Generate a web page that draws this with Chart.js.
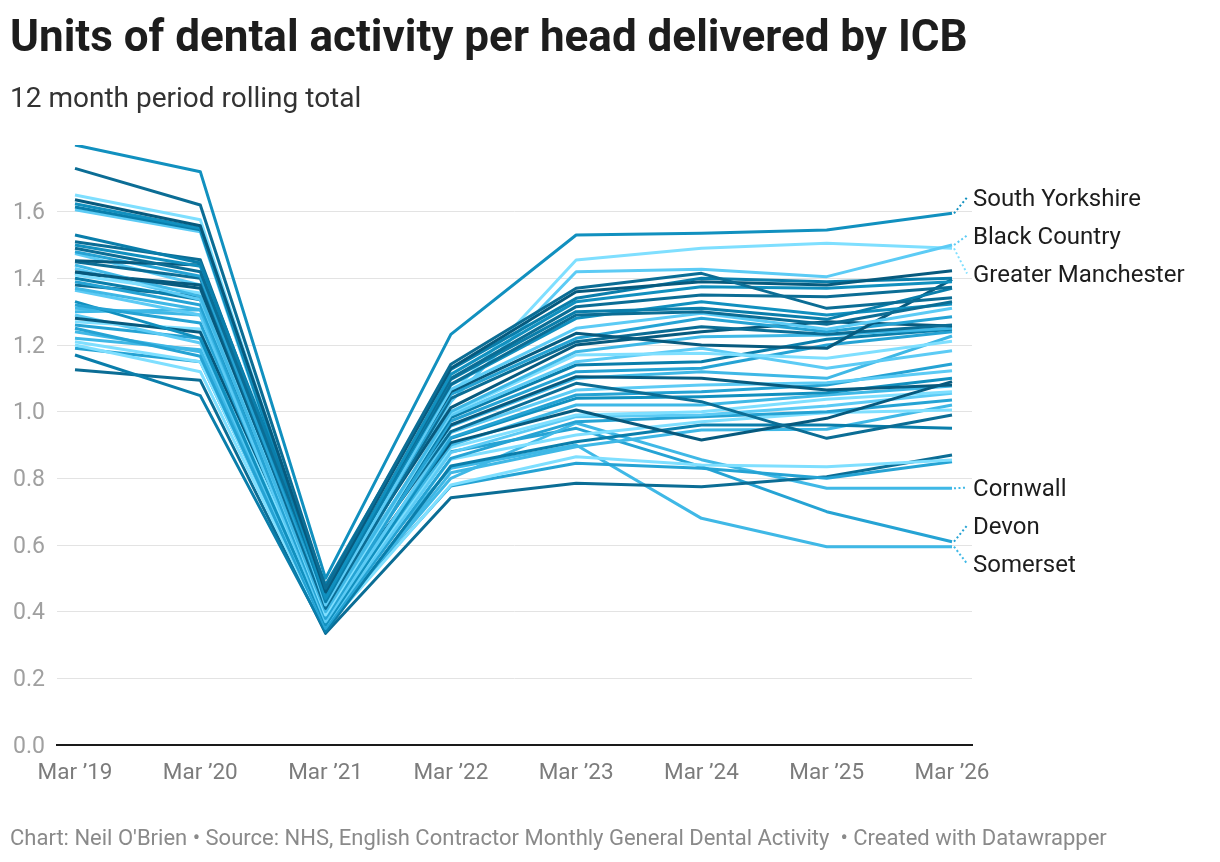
<!DOCTYPE html>
<html>
<head>
<meta charset="utf-8">
<script src="https://cdn.jsdelivr.net/npm/chart.js@4.4.1/dist/chart.umd.min.js"></script>
<style>
  html, body { margin: 0; padding: 0; background: #ffffff; }
  body { width: 1220px; height: 862px; position: relative; overflow: hidden; font-family: Roboto, "Noto Sans", sans-serif; }
  #chartbox { position: absolute; left: 0; top: 0; width: 1220px; height: 862px; }
  #title { position: absolute; left: 10px; top: 14px; font-weight: 700; font-size: 44px; line-height: 1; color: #1d1d1d; white-space: nowrap; z-index: 2; }
  #subtitle { position: absolute; left: 10px; top: 84px; font-size: 28px; line-height: 1; color: #333333; white-space: nowrap; z-index: 2; }
  #footer { position: absolute; left: 10px; top: 827px; font-size: 22px; line-height: 1; color: #8a8a8a; white-space: nowrap; z-index: 2; }
</style>
</head>
<body>
<div id="title">Units of dental activity per head delivered by ICB</div>
<div id="subtitle">12 month period rolling total</div>
<div id="chartbox"><canvas id="c" width="1220" height="862"></canvas></div>
<div id="footer">Chart: Neil O'Brien • Source: NHS, English Contractor Monthly General Dental Activity &nbsp;• Created with Datawrapper</div>
<script>
// ---- Data ----
const periods = ["Mar ’19", "Mar ’20", "Mar ’21", "Mar ’22", "Mar ’23", "Mar ’24", "Mar ’25", "Mar ’26"];
const yTickValues = [0.0, 0.2, 0.4, 0.6, 0.8, 1.0, 1.2, 1.4, 1.6];

const southYorkshire    = [1.80, 1.72, 0.50, 1.232, 1.53, 1.535, 1.545, 1.595];
const blackCountry      = [1.474, 1.38, 0.42, 1.03, 1.42, 1.427, 1.405, 1.50];
const greaterManchester = [1.65, 1.576, 0.45, 1.05, 1.455, 1.49, 1.505, 1.49];
const cornwall          = [1.22, 1.186, 0.36, 0.80, 0.966, 0.856, 0.77, 0.77];
const devon             = [1.26, 1.22, 0.38, 0.88, 0.95, 0.835, 0.70, 0.61];
const somerset          = [1.31, 1.29, 0.40, 0.83, 0.90, 0.68, 0.595, 0.595];

const labelledNames = ["South Yorkshire", "Black Country", "Greater Manchester", "Cornwall", "Devon", "Somerset"];
const labelledValues = [southYorkshire, blackCountry, greaterManchester, cornwall, devon, somerset];

const otherIcbValues = [
  [1.73, 1.62, 0.47, 1.142, 1.37, 1.415, 1.31, 1.342],
  [1.636, 1.558, 0.46, 1.13, 1.36, 1.39, 1.38, 1.423],
  [1.53, 1.446, 0.48, 1.127, 1.34, 1.40, 1.39, 1.40],
  [1.624, 1.55, 0.44, 1.112, 1.33, 1.375, 1.37, 1.39],
  [1.51, 1.456, 0.45, 1.10, 1.315, 1.35, 1.345, 1.373],
  [1.614, 1.546, 0.43, 1.097, 1.30, 1.31, 1.277, 1.37],
  [1.49, 1.42, 0.46, 1.082, 1.29, 1.30, 1.262, 1.33],
  [1.50, 1.436, 0.44, 1.08, 1.28, 1.33, 1.29, 1.323],
  [1.606, 1.54, 0.42, 1.067, 1.25, 1.295, 1.247, 1.31],
  [1.453, 1.44, 0.45, 1.06, 1.235, 1.20, 1.19, 1.397],
  [1.48, 1.406, 0.43, 1.052, 1.22, 1.28, 1.24, 1.285],
  [1.45, 1.40, 0.41, 1.04, 1.21, 1.255, 1.232, 1.26],
  [1.42, 1.37, 0.44, 1.012, 1.20, 1.24, 1.27, 1.257],
  [1.44, 1.346, 0.40, 1.00, 1.18, 1.225, 1.23, 1.25],
  [1.41, 1.356, 0.39, 0.997, 1.17, 1.175, 1.16, 1.211],
  [1.43, 1.336, 0.42, 0.99, 1.15, 1.19, 1.13, 1.183],
  [1.40, 1.336, 0.41, 0.982, 1.14, 1.15, 1.217, 1.247],
  [1.39, 1.32, 0.38, 0.972, 1.12, 1.13, 1.20, 1.24],
  [1.415, 1.38, 0.43, 0.96, 1.105, 1.10, 1.065, 1.08],
  [1.37, 1.306, 0.40, 0.957, 1.10, 1.12, 1.10, 1.227],
  [1.38, 1.346, 0.42, 0.94, 1.085, 1.03, 0.92, 0.99],
  [1.364, 1.29, 0.37, 0.937, 1.065, 1.08, 1.087, 1.123],
  [1.32, 1.266, 0.39, 0.922, 1.05, 1.06, 1.08, 1.143],
  [1.33, 1.22, 0.36, 0.92, 1.04, 1.045, 1.057, 1.10],
  [1.28, 1.238, 0.41, 0.907, 1.005, 0.915, 0.98, 1.09],
  [1.30, 1.306, 0.38, 0.90, 1.02, 1.02, 1.05, 1.077],
  [1.27, 1.248, 0.37, 0.892, 0.99, 1.00, 1.037, 1.06],
  [1.29, 1.206, 0.36, 0.877, 0.985, 0.99, 1.017, 1.055],
  [1.25, 1.166, 0.35, 0.86, 0.97, 0.985, 1.00, 1.035],
  [1.21, 1.15, 0.36, 0.857, 0.93, 0.97, 0.997, 1.005],
  [1.17, 1.048, 0.34, 0.837, 0.91, 0.96, 0.96, 0.95],
  [1.24, 1.18, 0.35, 0.817, 0.895, 0.945, 0.947, 1.02],
  [1.20, 1.12, 0.35, 0.78, 0.865, 0.84, 0.835, 0.855],
  [1.19, 1.15, 0.36, 0.777, 0.845, 0.83, 0.80, 0.85],
  [1.126, 1.094, 0.335, 0.742, 0.785, 0.775, 0.805, 0.87]
];

// ---- Styles (kept apart from the data) ----
const palette = ["#7fdfff", "#5ccbf5", "#3fb8e6", "#25a3d4", "#1190bf", "#0a7eab", "#0b6d95", "#075a7e"];
const labelledShades = [4, 1, 0, 2, 3, 2];
const otherShades = [6, 7, 5, 4, 6, 5, 6, 4, 1, 7, 3, 6, 7, 2, 0, 1, 5, 3, 7, 2, 6, 1, 3, 4, 7, 2, 0, 1, 3, 0, 5, 2, 0, 3, 6];

function makeDataset(name, values, shade) {
  return {
    label: name,
    data: values.map((v, i) => ({ x: i, y: v })),
    borderColor: palette[shade],
    backgroundColor: palette[shade],
    borderWidth: 3,
    pointRadius: 0,
    pointHoverRadius: 0,
    tension: 0,
    fill: false,
    borderJoinStyle: 'round'
  };
}

const datasets = [];
otherIcbValues.forEach((vals, i) => datasets.push(makeDataset('ICB ' + (i + 1), vals, otherShades[i])));
labelledValues.forEach((vals, i) => datasets.push(makeDataset(labelledNames[i], vals, labelledShades[i])));

const endLabels = {
  id: 'endLabels',
  afterDatasetsDraw(chart) {
    const { ctx, scales } = chart;
    const xs = scales.x, ys = scales.y;
    const items = labelledValues.map((vals, i) => ({
      name: labelledNames[i],
      color: palette[labelledShades[i]],
      target: ys.getPixelForValue(vals[vals.length - 1])
    }));
    items.sort((a, b) => a.target - b.target);
    const gap = 38;
    let groups = items.map(it => ({ items: [it], center: it.target }));
    let merged = true;
    while (merged) {
      merged = false;
      for (let i = 0; i < groups.length - 1; i++) {
        const g = groups[i], h = groups[i + 1];
        const gBottom = g.center + (g.items.length - 1) * gap / 2;
        const hTop = h.center - (h.items.length - 1) * gap / 2;
        if (hTop - gBottom < gap) {
          const all = g.items.concat(h.items);
          const c = all.reduce((s, it) => s + it.target, 0) / all.length;
          groups.splice(i, 2, { items: all, center: c });
          merged = true;
          break;
        }
      }
    }
    groups.forEach(g => g.items.forEach((it, k) => { it.ly = g.center + (k - (g.items.length - 1) / 2) * gap; }));
    const xEnd = xs.getPixelForValue(periods.length - 1);
    ctx.save();
    items.forEach(it => {
      ctx.beginPath();
      ctx.setLineDash([2, 2.5]);
      ctx.lineWidth = 2;
      ctx.strokeStyle = it.color;
      ctx.moveTo(xEnd + 2, it.target);
      ctx.lineTo(xEnd + 15, it.ly);
      ctx.stroke();
      ctx.setLineDash([]);
      ctx.fillStyle = '#1d1d1d';
      ctx.font = '24px Roboto';
      ctx.textBaseline = 'middle';
      ctx.textAlign = 'left';
      ctx.fillText(it.name, xEnd + 21, it.ly + 2);
    });
    ctx.restore();
  }
};

function draw() {
  new Chart(document.getElementById('c'), {
    type: 'line',
    data: { datasets },
    options: {
      responsive: false,
      animation: false,
      events: [],
      layout: { padding: { left: 0, right: 248, top: 145, bottom: 0 } },
      plugins: { legend: { display: false }, tooltip: { enabled: false }, title: { display: false } },
      scales: {
        x: {
          type: 'linear',
          min: -0.1437,
          max: 7.1596,
          afterBuildTicks: sc => { sc.ticks = periods.map((_, i) => ({ value: i })); },
          afterFit: sc => { sc.height = 117; },
          ticks: {
            callback: v => periods[v] ?? '',
            font: { family: 'Roboto', size: 22.5 },
            color: '#7c7c7c',
            padding: 15,
            maxRotation: 0,
            autoSkip: false
          },
          grid: { display: false, drawTicks: false },
          border: { display: true, color: '#1a1a1a', width: 2 }
        },
        y: {
          min: 0,
          max: 1.8,
          afterBuildTicks: sc => { sc.ticks = yTickValues.concat([1.8]).map(v => ({ value: v })); },
          afterFit: sc => { sc.width = 57; },
          ticks: {
            callback: v => (v > 1.7 ? null : Number(v).toFixed(1)),
            font: { family: 'Roboto', size: 23 },
            color: '#a0a0a0',
            padding: 12,
            labelOffset: 2
          },
          grid: { color: '#e3e3e3', lineWidth: 1, drawTicks: false },
          border: { display: false }
        }
      }
    },
    plugins: [endLabels]
  });
}

if (document.fonts && document.fonts.load) {
  Promise.all([document.fonts.load('22px Roboto'), document.fonts.load('bold 44px Roboto')]).then(draw, draw);
} else {
  draw();
}
</script>
</body>
</html>
